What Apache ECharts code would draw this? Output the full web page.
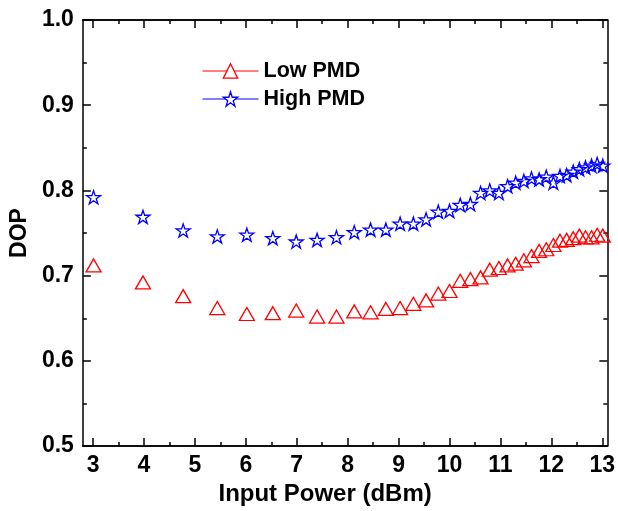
<!DOCTYPE html>
<html>
<head>
<meta charset="utf-8">
<script src="https://cdn.jsdelivr.net/npm/echarts@6/dist/echarts.min.js"></script>
<style>
html,body{margin:0;padding:0;background:#fff;}
#chart{width:618px;height:511px;}
</style>
</head>
<body>
<div id="chart"></div>
<script>
// Input power (dBm)
var inputPower = [3.01, 3.98, 4.77, 5.44, 6.02, 6.53, 6.99, 7.40, 7.78, 8.13, 8.45, 8.75, 9.03, 9.29, 9.54, 9.78, 10.00, 10.21, 10.41, 10.61, 10.79, 10.97, 11.14, 11.30, 11.46, 11.61, 11.76, 11.90, 12.04, 12.17, 12.30, 12.43, 12.55, 12.67, 12.79, 12.90, 13.01];
var lowPMD = [0.712, 0.692, 0.676, 0.662, 0.655, 0.656, 0.659, 0.652, 0.652, 0.658, 0.657, 0.661, 0.662, 0.667, 0.671, 0.679, 0.682, 0.694, 0.696, 0.698, 0.707, 0.709, 0.712, 0.714, 0.718, 0.723, 0.729, 0.731, 0.736, 0.741, 0.742, 0.744, 0.747, 0.745, 0.745, 0.748, 0.747];
var highPMD = [0.792, 0.769, 0.753, 0.746, 0.748, 0.744, 0.740, 0.742, 0.745, 0.751, 0.754, 0.754, 0.761, 0.761, 0.766, 0.775, 0.776, 0.783, 0.784, 0.797, 0.800, 0.797, 0.805, 0.809, 0.811, 0.814, 0.813, 0.816, 0.809, 0.817, 0.818, 0.822, 0.825, 0.827, 0.829, 0.831, 0.829];
var xMajorTicks = [3, 4, 5, 6, 7, 8, 9, 10, 11, 12, 13];
var xMinorTicks = [3.5, 4.5, 5.5, 6.5, 7.5, 8.5, 9.5, 10.5, 11.5, 12.5];
var seriesNames = ['Low PMD', 'High PMD'];

var FONT = 'Liberation Sans, Arial, sans-serif';
var starPath = 'path://M50,2 L61.2,36.2 L97.6,36.2 L68.2,57.6 L79.4,92 L50,70.8 L20.6,92 L31.8,57.6 L2.4,36.2 L38.8,36.2 Z';

function pairs(xs, ys) { return xs.map(function (x, i) { return [x, ys[i]]; }); }

var XMIN = 2.8, XMAX = 13.1;
function xAx(pos, vals, len, labels, name) {
  return {
    type: 'value', position: pos, min: XMIN, max: XMAX,
    axisLine: { show: true, onZero: false, lineStyle: { color: '#000', width: 1.5 } },
    axisTick: { show: true, inside: true, length: len, customValues: vals, lineStyle: { color: '#000', width: 1.5 } },
    axisLabel: labels ? { show: true, customValues: xMajorTicks, margin: 8, color: '#000', fontFamily: FONT, fontWeight: 'bold', fontSize: 23 } : { show: false },
    splitLine: { show: false },
    name: name || '', nameLocation: 'middle', nameGap: 30,
    nameTextStyle: { color: '#000', fontFamily: FONT, fontWeight: 'bold', fontSize: 24, padding: [0, 40, 0, 0] }
  };
}
function yAx(pos, labels, name) {
  return {
    type: 'value', position: pos, min: 0.5, max: 1.0, interval: 0.1,
    axisLine: { show: true, onZero: false, lineStyle: { color: '#000', width: 1.5 } },
    axisTick: { show: true, inside: true, length: 8, lineStyle: { color: '#000', width: 1.5 } },
    minorTick: { show: true, splitNumber: 2, length: 4, lineStyle: { color: '#000', width: 1.5 } },
    axisLabel: labels ? { show: true, margin: 9, color: '#000', fontFamily: FONT, fontWeight: 'bold', fontSize: 23, formatter: function (v) { return v.toFixed(1); } } : { show: false },
    splitLine: { show: false }, minorSplitLine: { show: false },
    name: name || '', nameLocation: 'middle', nameGap: 44, nameRotate: 90,
    nameTextStyle: { color: '#000', fontFamily: FONT, fontWeight: 'bold', fontSize: 23 }
  };
}

var chart = echarts.init(document.getElementById('chart'), null, { renderer: 'canvas' });
chart.setOption({
  backgroundColor: '#fff',
  animation: false,
  grid: { left: 77, right: 10, top: 20, bottom: 58, containLabel: false },
  xAxis: [
    xAx('bottom', xMajorTicks, 8, true, 'Input Power (dBm)'),
    xAx('bottom', xMinorTicks, 4, false),
    xAx('top', xMajorTicks, 8, false),
    xAx('top', xMinorTicks, 4, false)
  ],
  yAxis: [yAx('left', true, 'DOP'), yAx('right', false)],
  legend: {
    orient: 'vertical', left: 197, top: 55, itemWidth: 56, itemHeight: 18, itemGap: 6,
    textStyle: { color: '#000', fontFamily: FONT, fontWeight: 'bold', fontSize: 21.5 },
    data: [
      { name: seriesNames[0], lineStyle: { color: '#ff0000', width: 1, opacity: 1 }, itemStyle: { color: '#fff', borderColor: '#ff0000', borderWidth: 1.3 } },
      { name: seriesNames[1], lineStyle: { color: '#0000ff', width: 1, opacity: 1 }, itemStyle: { color: '#fff', borderColor: '#0000ff', borderWidth: 1.3 } }
    ]
  },
  series: [
    {
      name: seriesNames[0], type: 'line', xAxisIndex: 0, yAxisIndex: 0,
      data: pairs(inputPower, lowPMD),
      symbol: 'triangle', symbolSize: [15, 13],
      lineStyle: { opacity: 0 },
      itemStyle: { color: 'rgba(255,255,255,0)', borderColor: '#ff0000', borderWidth: 1.3 }
    },
    {
      name: seriesNames[1], type: 'line', xAxisIndex: 0, yAxisIndex: 0,
      data: pairs(inputPower, highPMD),
      symbol: starPath, symbolSize: 14, symbolKeepAspect: true,
      lineStyle: { opacity: 0 },
      itemStyle: { color: 'rgba(255,255,255,0)', borderColor: '#0000ff', borderWidth: 1.3 }
    }
  ]
});
</script>
</body>
</html>
